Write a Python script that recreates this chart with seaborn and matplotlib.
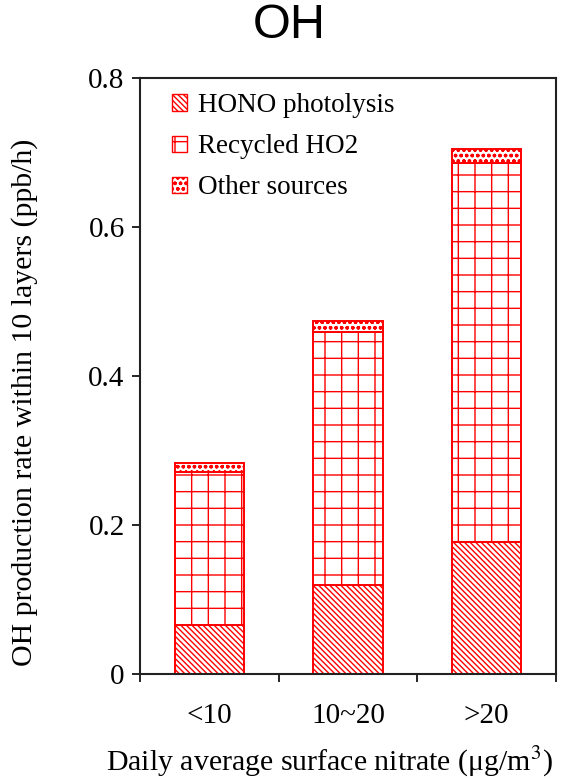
import numpy as np
import pandas as pd
import matplotlib
matplotlib.use("Agg")
import matplotlib.pyplot as plt
import matplotlib.patches as mpatches
import seaborn as sns

categories = ["<10", "10~20", ">20"]
hono = [0.066, 0.119, 0.177]
recycled_ho2 = [0.205, 0.340, 0.509]
other = [0.012, 0.015, 0.019]

sns.set_theme(style="ticks")
plt.rcParams["font.family"] = ["Liberation Serif", "DejaVu Serif"]
plt.rcParams["mathtext.fontset"] = "stix"
plt.rcParams["hatch.linewidth"] = 1.0
plt.rcParams["text.color"] = "black"
plt.rcParams["xtick.color"] = "black"
plt.rcParams["ytick.color"] = "black"

df = pd.DataFrame({"cat": categories, "hono": hono, "ho2": recycled_ho2, "other": other})
df["b2"] = df["hono"]
df["b3"] = df["hono"] + df["ho2"]

fig = plt.figure(figsize=(5.62, 7.79), dpi=100)
ax = fig.add_axes([0.249, 0.1348, 0.740, 0.7651])

h_hono, h_ho2, h_other = "\\\\\\\\\\\\", "+", "ooo"
common = dict(color="white", edgecolor="red", linewidth=1.4, width=0.5, ax=ax)
sns.barplot(data=df, x="cat", y="hono", hatch=h_hono, **common)
sns.barplot(data=df, x="cat", y="ho2", bottom=df["b2"], hatch=h_ho2, **common)
sns.barplot(data=df, x="cat", y="other", bottom=df["b3"], hatch=h_other, **common)

ax.set_xlim(-0.5, 2.5)
ax.set_ylim(0, 0.8)
ax.set_yticks([0, 0.2, 0.4, 0.6, 0.8])
ax.set_yticklabels(["0", "0.2", "0.4", "0.6", "0.8"])
ax.set_xticks([0, 1, 2])
ax.set_xticklabels(categories)
ax.set_xticks([-0.5, 0.5, 1.5, 2.5], minor=True)
ax.tick_params(axis="x", which="major", length=0, pad=21, labelsize=21)
ax.tick_params(axis="x", which="minor", length=6, width=1.2, direction="out", color="black")
ax.tick_params(axis="y", length=6, width=1.2, direction="out", labelsize=21, pad=5)
for s in ax.spines.values():
    s.set_linewidth(1.5)
    s.set_color("#222222")
    s.set_visible(True)
ax.set_xlabel("")
ax.set_ylabel("")

fig.text(330 / 562, 1 - 762 / 779, "Daily average surface nitrate (μg/m$^3$)",
         fontsize=21.5, ha="center", va="center")
fig.text(25 / 562, 1 - 402 / 779, "OH production rate within 10 layers (ppb/h)",
         fontsize=21.5, ha="center", va="center", rotation=90)
fig.text(289 / 562, 1 - 26 / 779, "OH", fontsize=35, family="Liberation Sans",
         ha="center", va="center")

handles = [
    mpatches.Patch(facecolor="white", edgecolor="red", hatch=h_hono, label="HONO photolysis"),
    mpatches.Patch(facecolor="white", edgecolor="red", hatch=h_ho2, label="Recycled HO2"),
    mpatches.Patch(facecolor="white", edgecolor="red", hatch=h_other, label="Other sources"),
]
fig.legend(handles=handles, loc="upper left", bbox_to_anchor=(172 / 562, 1 - 93 / 779),
           frameon=False, borderpad=0, borderaxespad=0,
           fontsize=19.5, handlelength=0.55, handleheight=0.55, handletextpad=0.4,
           labelspacing=0.6)

fig.savefig("out.png", dpi=100)
